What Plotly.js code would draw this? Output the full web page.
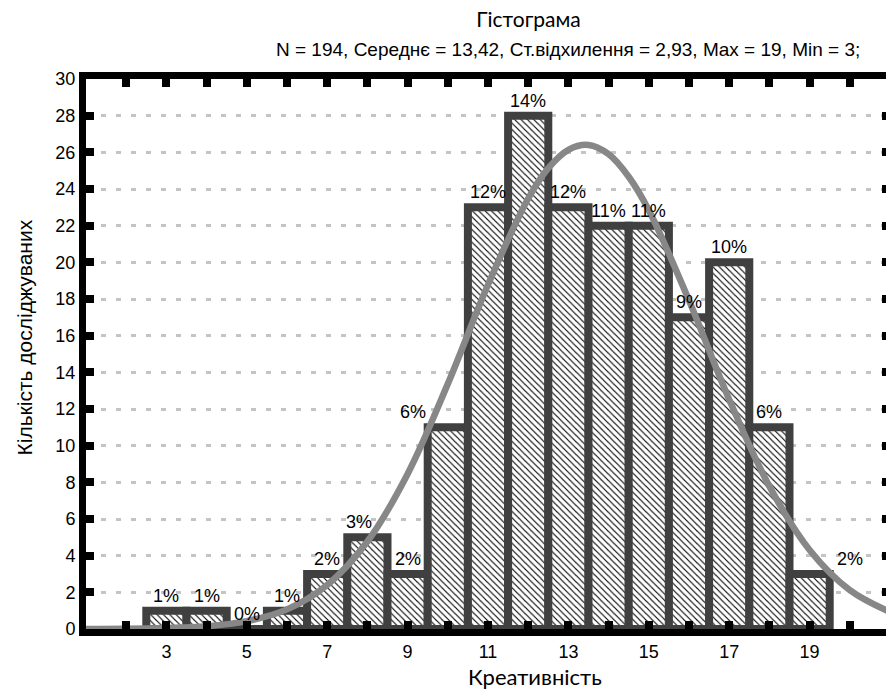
<!DOCTYPE html>
<html>
<head>
<meta charset="utf-8">
<script src="https://cdn.plot.ly/plotly-3.0.1.min.js"></script>
<style>
html,body{margin:0;padding:0;overflow:hidden;width:886px;height:689px;background:#fff}
#chart{width:896px;height:689px}
</style>
</head>
<body>
<div id="chart"></div>
<script>
// ---- data ----
const categories = [3,4,5,6,7,8,9,10,11,12,13,14,15,16,17,18,19];
const counts     = [1,1,0,1,3,5,3,11,23,28,23,22,22,17,20,11,3];
const percentLabels = ['1%','1%','0%','1%','2%','3%','2%','6%','12%','14%','12%','11%','11%','9%','10%','6%','2%'];

// fitted normal curve
const curveX = [1,2,3,4,5,6,7,8,9,10,11,12,12.5,13,13.5,14,14.5,15,16,17,18,19,20,21];
const curveY = [0.00,0.01,0.05,0.15,0.43,1.07,2.40,4.77,8.46,13.37,18.78,23.48,25.14,26.14,26.40,25.90,24.67,22.84,17.92,12.52,7.78,4.31,2.12,0.93];

const xTickVals = [2,3,4,5,6,7,8,9,10,11,12,13,14,15,16,17,18,19,20];
const xTickText = ['','3','','5','','7','','9','','11','','13','','15','','17','','19',''];
const yTickVals = [0,2,4,6,8,10,12,14,16,18,20,22,24,26,28,30];

const titleText = 'Гістограма';
const subtitleText = 'N = 194, Середнє = 13,42, Ст.відхилення = 2,93, Max = 19, Min = 3;';
const xTitleText = 'Креативність';
const yTitleText = 'Кількість досліджуваних';

// ---- layout constants ----
const W = 896, H = 689;
const M = {l: 86, r: 6, t: 79, b: 60};
const plotW = W - M.l - M.r, plotH = H - M.t - M.b;
const px2paperX = px => (px - M.l) / plotW;
const py2paperY = py => (H - M.b - py) / plotH;

const arial = '"Liberation Sans", Arial, sans-serif';
const calib = 'Lato, "Open Sans", "Noto Sans", sans-serif';

// label offsets (pixels) for the few labels that sit off-centre in the reference
const labelShift = {8: -8, 10: -35, 19: 40};

const barTrace = {
  type: 'bar',
  x: categories,
  y: counts,
  width: 1,
  marker: {
    color: '#ffffff',
    line: {color: '#404040', width: 8},
    pattern: {shape: '\\', fgcolor: '#000000', bgcolor: '#ffffff', size: 4.5, solidity: 0.25}
  },
  hoverinfo: 'skip',
  showlegend: false
};

const curveTrace = {
  type: 'scatter',
  mode: 'lines',
  x: curveX,
  y: curveY,
  line: {color: '#878787', width: 6.5, shape: 'spline', smoothing: 1},
  hoverinfo: 'skip',
  showlegend: false
};

const annotations = categories.map((c, i) => ({
  x: c, y: counts[i], xref: 'x', yref: 'y',
  text: percentLabels[i],
  showarrow: false,
  xanchor: 'center', yanchor: 'middle',
  yshift: 15,
  xshift: labelShift[c] || 0,
  font: {family: arial, size: 18, color: '#000'}
}));

annotations.push({
  text: subtitleText,
  xref: 'paper', yref: 'paper',
  x: px2paperX(274), y: py2paperY(49.5),
  xanchor: 'left', yanchor: 'middle',
  showarrow: false,
  font: {family: arial, size: 19, color: '#000'}
});
annotations.push({
  text: xTitleText,
  xref: 'paper', yref: 'paper',
  x: px2paperX(535), y: py2paperY(676),
  xanchor: 'center', yanchor: 'middle',
  showarrow: false,
  font: {family: calib, size: 22, color: '#000'}
});
annotations.push({
  text: yTitleText,
  xref: 'paper', yref: 'paper',
  x: px2paperX(23.5), y: py2paperY(338),
  xanchor: 'center', yanchor: 'middle',
  textangle: -90,
  showarrow: false,
  font: {family: arial, size: 21, color: '#000'}
});

const layout = {
  width: W, height: H,
  margin: M,
  paper_bgcolor: '#fff', plot_bgcolor: '#fff',
  bargap: 0,
  title: {
    text: titleText,
    font: {family: calib, size: 21, color: '#000'},
    xref: 'container', yref: 'container',
    x: 528.5 / W, y: 1 - 19.5 / H,
    xanchor: 'center', yanchor: 'middle'
  },
  xaxis: {
    range: [1, 21],
    tickvals: xTickVals, ticktext: xTickText,
    ticks: 'inside', ticklen: 8, tickwidth: 8, tickcolor: '#000',
    showline: true, linewidth: 7, linecolor: '#000', mirror: 'allticks',
    showgrid: false, zeroline: false,
    tickfont: {family: arial, size: 18, color: '#000'}
  },
  yaxis: {
    range: [0, 30],
    tickvals: yTickVals,
    ticks: 'inside', ticklen: 8, tickwidth: 8, tickcolor: '#000',
    showline: true, linewidth: 7, linecolor: '#000', mirror: 'allticks',
    showgrid: true, gridcolor: '#c4c4c4', gridwidth: 3, griddash: '5px,10px',
    zeroline: false,
    tickfont: {family: arial, size: 18, color: '#000'}
  },
  annotations: annotations
};

Plotly.newPlot('chart', [barTrace, curveTrace], layout, {displayModeBar: false, staticPlot: true});
</script>
</body>
</html>
